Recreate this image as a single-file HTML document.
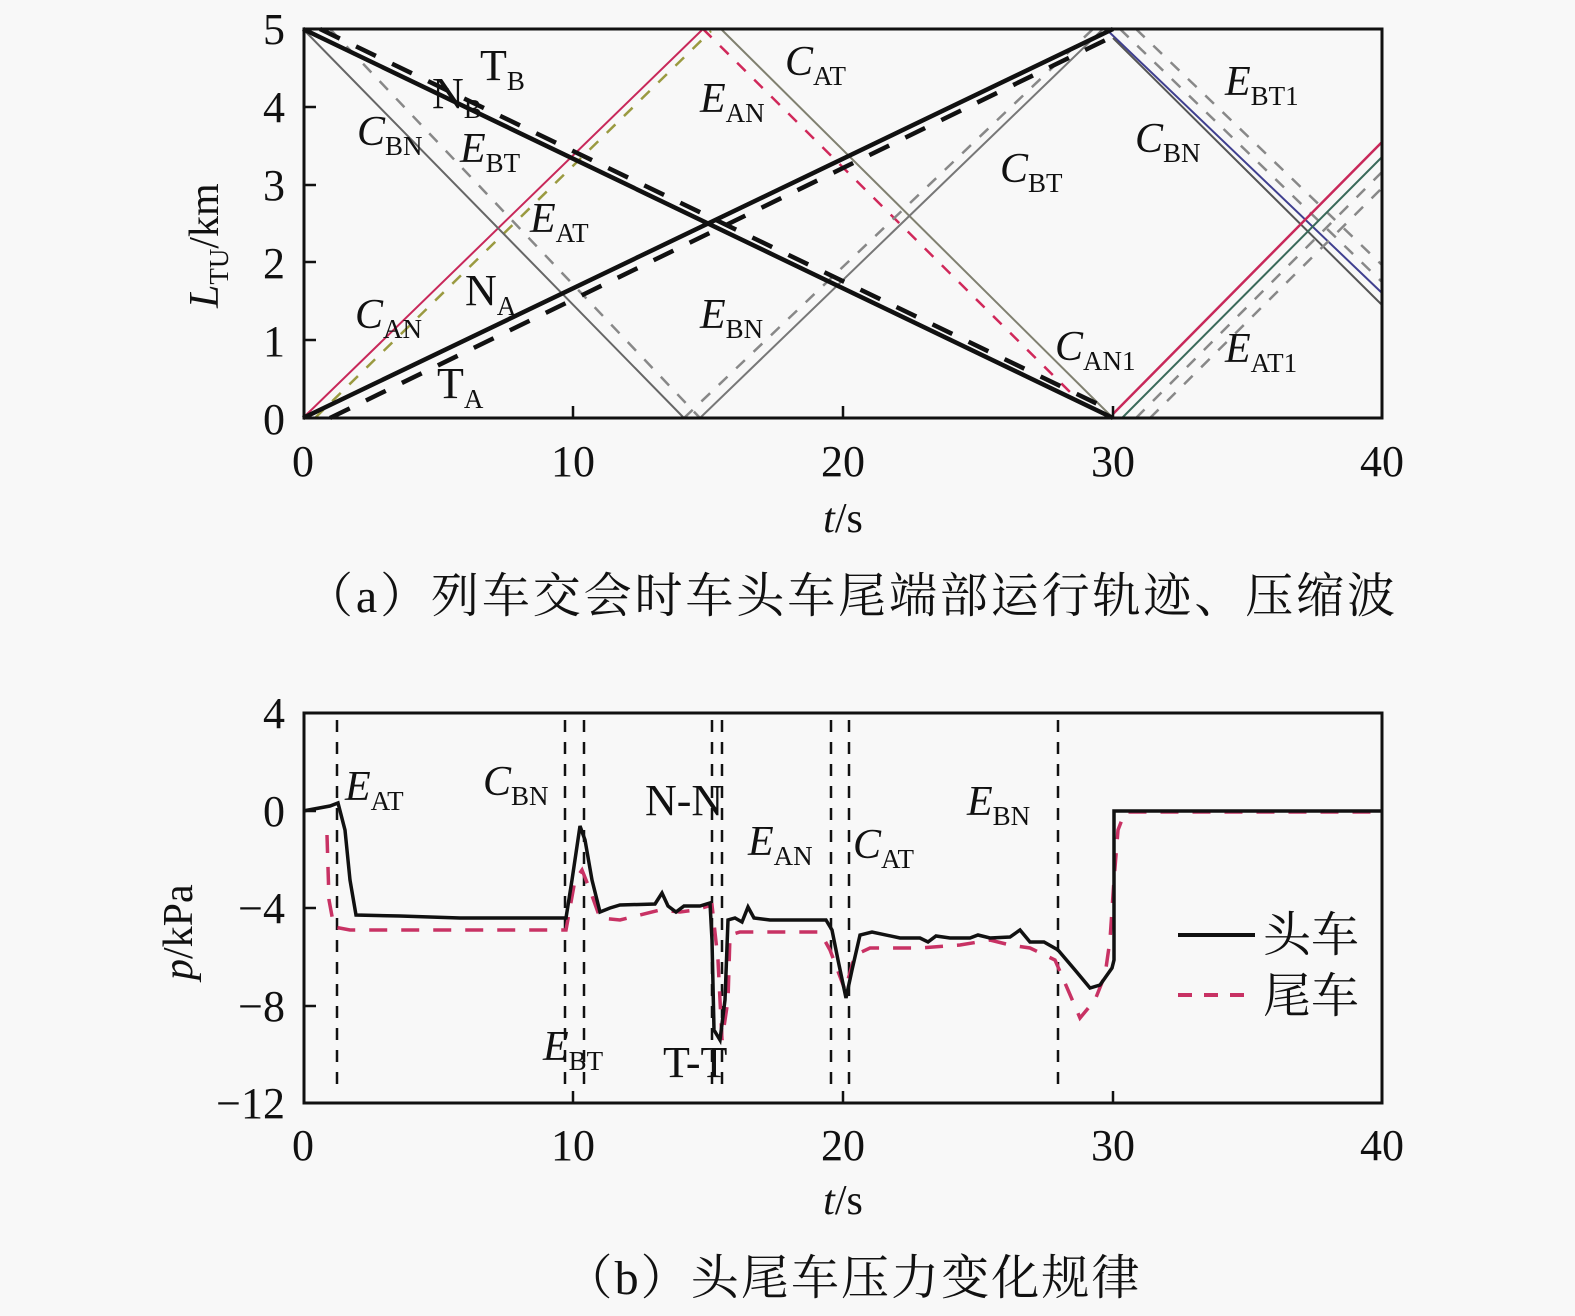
<!DOCTYPE html>
<html><head><meta charset="utf-8"><style>
html,body{margin:0;padding:0;background:#f8f8f8;overflow:hidden;width:1575px;height:1316px;}
svg{display:block;}
text{font-family:"Liberation Serif","Noto Serif CJK SC",serif;fill:#111;}
.t{font-size:44px;}
.l{font-size:42px;font-style:italic;}
.s{font-size:27px;font-style:normal;}
</style></head><body>
<svg width="1575" height="1316" viewBox="0 0 1575 1316" xmlns="http://www.w3.org/2000/svg">
<rect width="1575" height="1316" fill="#f8f8f8"/>
<!-- TOP PLOT -->
<g fill="none" stroke-linecap="butt">
 <polyline points="303,418 703,29" stroke="#c8285a" stroke-width="2"/>
 <polyline points="315,418 711,31" stroke="#9a9a40" stroke-width="2.5" stroke-dasharray="12,12"/>
 <polyline points="703,29 1073,395" stroke="#d0285a" stroke-width="2.5" stroke-dasharray="12,12"/>
 <polyline points="721,29 1113,418" stroke="#808070" stroke-width="2"/>
 <polyline points="303,29 684,418" stroke="#666" stroke-width="2"/>
 <polyline points="330,29 700,418" stroke="#888" stroke-width="2.5" stroke-dasharray="12,12"/>
 <polyline points="700,418 1103,29" stroke="#777" stroke-width="2"/>
 <polyline points="684,418 1093,29" stroke="#888" stroke-width="2.5" stroke-dasharray="12,12"/>
 <polyline points="1106,29 1382,293" stroke="#404090" stroke-width="2"/>
 <polyline points="1113,38 1382,305" stroke="#555" stroke-width="2"/>
 <polyline points="1120,29 1382,282" stroke="#888" stroke-width="2.5" stroke-dasharray="12,12"/>
 <polyline points="1136,29 1382,265" stroke="#888" stroke-width="2.5" stroke-dasharray="12,12"/>
 <polyline points="1113,414 1382,142" stroke="#c8285a" stroke-width="2.5"/>
 <polyline points="1122,418 1382,157" stroke="#3a6a5a" stroke-width="2"/>
 <polyline points="1136,418 1382,172" stroke="#888" stroke-width="2.5" stroke-dasharray="12,12"/>
 <polyline points="1150,418 1382,188" stroke="#888" stroke-width="2.5" stroke-dasharray="12,12"/>
 <polyline points="303,418 1113,29" stroke="#111" stroke-width="4.5"/>
 <polyline points="303,29 1113,418" stroke="#111" stroke-width="4.5"/>
 <polyline points="330,418 1120,33" stroke="#111" stroke-width="4.5" stroke-dasharray="22,18"/>
 <polyline points="320,29 1110,410" stroke="#111" stroke-width="4.5" stroke-dasharray="22,18"/>
 <rect x="304" y="29" width="1078" height="389" stroke="#111" stroke-width="3"/>
</g>
<g stroke="#111" stroke-width="2.5">
 <line x1="304" y1="107" x2="316" y2="107"/><line x1="304" y1="185" x2="316" y2="185"/>
 <line x1="304" y1="262" x2="316" y2="262"/><line x1="304" y1="340" x2="316" y2="340"/>
 <line x1="573" y1="418" x2="573" y2="406"/><line x1="843" y1="418" x2="843" y2="406"/><line x1="1113" y1="418" x2="1113" y2="406"/>
</g>
<g class="t" text-anchor="end">
 <text x="285" y="44">5</text><text x="285" y="122">4</text><text x="285" y="200">3</text>
 <text x="285" y="278">2</text><text x="285" y="356">1</text><text x="285" y="434">0</text>
</g>
<g class="t" text-anchor="middle">
 <text x="303" y="476">0</text><text x="573" y="476">10</text><text x="843" y="476">20</text>
 <text x="1113" y="476">30</text><text x="1382" y="476">40</text>
</g>
<text class="l" x="843" y="532" text-anchor="middle">t<tspan font-style="normal">/s</tspan></text>
<text class="l" transform="translate(218,308) rotate(-90)">L<tspan class="s" dy="10">TU</tspan><tspan font-style="normal" dy="-10">/km</tspan></text>
<g class="t">
 <text x="480" y="80">T<tspan class="s" dy="10">B</tspan></text>
 <text x="432" y="108">N<tspan class="s" dy="10">B</tspan></text>
 <text x="465" y="305">N<tspan class="s" dy="10">A</tspan></text>
 <text x="437" y="398">T<tspan class="s" dy="10">A</tspan></text>
</g>
<g class="l">
 <text x="357" y="145">C<tspan class="s" dy="10">BN</tspan></text>
 <text x="460" y="162">E<tspan class="s" dy="10">BT</tspan></text>
 <text x="530" y="232">E<tspan class="s" dy="10">AT</tspan></text>
 <text x="355" y="328">C<tspan class="s" dy="10">AN</tspan></text>
 <text x="700" y="112">E<tspan class="s" dy="10">AN</tspan></text>
 <text x="785" y="75">C<tspan class="s" dy="10">AT</tspan></text>
 <text x="700" y="328">E<tspan class="s" dy="10">BN</tspan></text>
 <text x="1000" y="182">C<tspan class="s" dy="10">BT</tspan></text>
 <text x="1135" y="152">C<tspan class="s" dy="10">BN</tspan></text>
 <text x="1225" y="95">E<tspan class="s" dy="10">BT1</tspan></text>
 <text x="1055" y="360">C<tspan class="s" dy="10">AN1</tspan></text>
 <text x="1225" y="362">E<tspan class="s" dy="10">AT1</tspan></text>
</g>
<text x="850" y="612" text-anchor="middle" textLength="1090" style="font-size:48px">（a）列车交会时车头车尾端部运行轨迹、压缩波</text>

<!-- BOTTOM PLOT -->
<g stroke="#111" stroke-width="2.5" stroke-dasharray="12,10" fill="none">
 <line x1="337" y1="720" x2="337" y2="1092"/><line x1="565" y1="720" x2="565" y2="1092"/>
 <line x1="584" y1="720" x2="584" y2="1092"/><line x1="712" y1="720" x2="712" y2="1092"/>
 <line x1="722" y1="720" x2="722" y2="1092"/><line x1="831" y1="720" x2="831" y2="1092"/>
 <line x1="849" y1="720" x2="849" y2="1092"/><line x1="1058" y1="720" x2="1058" y2="1092"/>
</g>
<polyline fill="none" stroke="#c83264" stroke-width="3.5" stroke-dasharray="18,14" points="327,835 329,900 334,927 350,930 566,930 575,880 582,870 590,890 600,918 620,920 660,910 680,912 695,910 712,905 718,960 722,1040 728,1000 730,935 740,932 820,932 830,950 845,990 855,955 870,948 920,948 960,945 990,940 1010,945 1030,948 1055,960 1068,990 1080,1018 1095,1000 1105,975 1110,940 1114,880 1118,830 1125,812 1382,812"/>
<polyline fill="none" stroke="#111" stroke-width="3.5" points="303,811 330,806 338,803 345,830 350,880 356,915 400,916 460,918 566,918 572,880 580,826 585,840 592,880 600,912 610,908 620,905 655,904 662,893 668,906 676,912 684,906 700,906 710,903 712,940 714,1030 720,1040 725,1000 728,920 735,918 742,922 748,907 754,918 770,920 826,920 832,930 838,960 846,998 852,970 860,935 872,932 900,938 920,938 928,942 936,936 950,938 970,938 978,935 990,938 1010,937 1020,930 1030,942 1044,942 1058,950 1075,970 1090,988 1100,985 1112,968 1114,960 1114,811 1382,811"/>
<rect x="304" y="713" width="1078" height="390" fill="none" stroke="#111" stroke-width="3"/>
<g stroke="#111" stroke-width="2.5">
 <line x1="304" y1="811" x2="316" y2="811"/><line x1="304" y1="908" x2="316" y2="908"/><line x1="304" y1="1006" x2="316" y2="1006"/>
 <line x1="573" y1="1103" x2="573" y2="1091"/><line x1="843" y1="1103" x2="843" y2="1091"/><line x1="1113" y1="1103" x2="1113" y2="1091"/>
</g>
<g class="t" text-anchor="end">
 <text x="285" y="728">4</text><text x="285" y="826">0</text><text x="285" y="923">−4</text>
 <text x="285" y="1021">−8</text><text x="285" y="1118">−12</text>
</g>
<g class="t" text-anchor="middle">
 <text x="303" y="1160">0</text><text x="573" y="1160">10</text><text x="843" y="1160">20</text>
 <text x="1113" y="1160">30</text><text x="1382" y="1160">40</text>
</g>
<text class="l" x="843" y="1214" text-anchor="middle">t<tspan font-style="normal">/s</tspan></text>
<text class="l" transform="translate(192,980) rotate(-90)">p<tspan font-style="normal">/kPa</tspan></text>
<g class="l">
 <text x="345" y="800">E<tspan class="s" dy="10">AT</tspan></text>
 <text x="483" y="795">C<tspan class="s" dy="10">BN</tspan></text>
 <text x="748" y="855">E<tspan class="s" dy="10">AN</tspan></text>
 <text x="853" y="858">C<tspan class="s" dy="10">AT</tspan></text>
 <text x="967" y="815">E<tspan class="s" dy="10">BN</tspan></text>
 <text x="543" y="1060">E<tspan class="s" dy="10">BT</tspan></text>
</g>
<g class="t">
 <text x="645" y="815">N-N</text>
 <text x="663" y="1077">T-T</text>
</g>
<line x1="1178" y1="935" x2="1255" y2="935" stroke="#111" stroke-width="4"/>
<line x1="1178" y1="995" x2="1255" y2="995" stroke="#c83264" stroke-width="4" stroke-dasharray="14,12"/>
<text x="1263" y="951" style="font-size:48px">头车</text>
<text x="1263" y="1012" style="font-size:48px">尾车</text>
<text x="852" y="1294" text-anchor="middle" textLength="575" style="font-size:48px">（b）头尾车压力变化规律</text>
</svg>
</body></html>
